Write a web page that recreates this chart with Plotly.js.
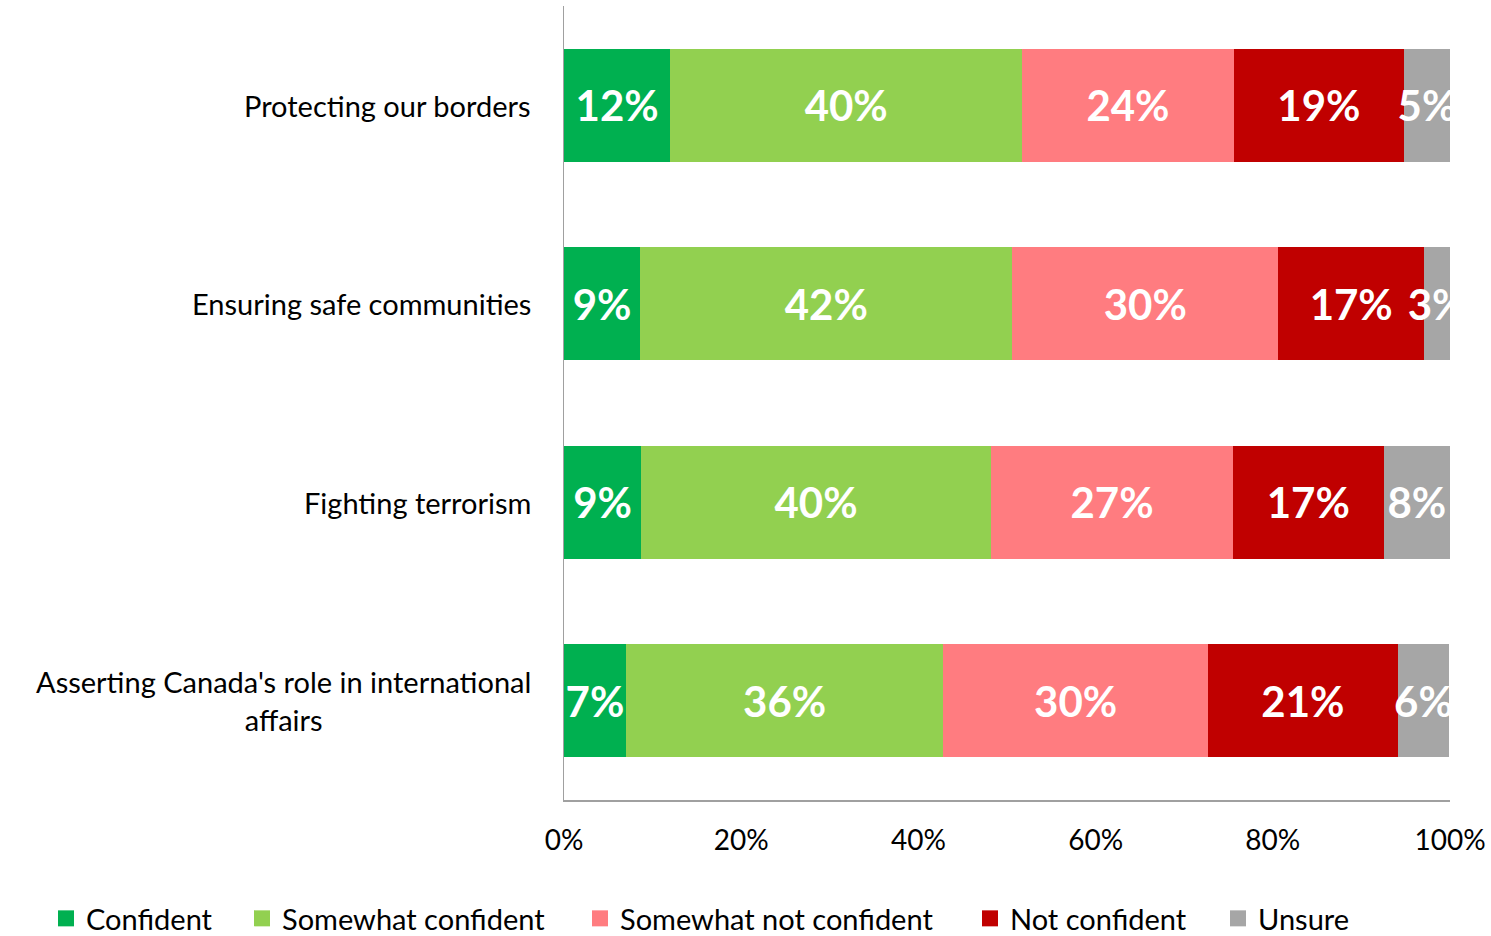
<!DOCTYPE html>
<html>
<head>
<meta charset="utf-8">
<script src="https://cdn.plot.ly/plotly-3.0.1.min.js"></script>
<style>html,body{margin:0;padding:0;background:#fff;}#chart{width:1491px;height:936px;}</style>
</head>
<body>
<div id="chart"></div>
<script>
const categories = ["Protecting our borders", "Ensuring safe communities", "Fighting terrorism", "Asserting Canada's role in international<br>affairs"];
const seriesNames = ["Confident", "Somewhat confident", "Somewhat not confident", "Not confident", "Unsure"];
const confident = [12.0, 8.6, 8.7, 7.0];
const somewhatConfident = [39.7, 42.0, 39.5, 35.8];
const somewhatNotConfident = [23.9, 30.0, 27.3, 29.9];
const notConfident = [19.2, 16.5, 17.0, 21.4];
const unsure = [5.2, 2.9, 7.5, 5.8];
const xTickVals = [0, 20, 40, 60, 80, 100];
const xTickText = ["0%", "20%", "40%", "60%", "80%", "100%"];

const colors = ["#00B050", "#92D050", "#FF7C80", "#C00000", "#A6A6A6"];
const allSeries = [confident, somewhatConfident, somewhatNotConfident, notConfident, unsure];
const FONT = "Lato, 'Open Sans', sans-serif";

// legend box left edges (px) for each entry
const legendLeftPx = [46, 242, 580, 970, 1218];
const plotL = 564, plotR = 1450;

const traces = [];
allSeries.forEach((vals, i) => {
  traces.push({
    type: 'bar', orientation: 'h',
    x: vals, y: categories,
    name: seriesNames[i],
    marker: {color: colors[i], line: {width: 0}},
    text: vals.map(v => Math.round(v) + '%'),
    textposition: 'inside',
    insidetextanchor: 'middle',
    constraintext: 'none',
    textangle: 0,
    textfont: {family: FONT, size: 42, color: '#ffffff', weight: 'bold'},
    showlegend: false,
    hoverinfo: 'skip'
  });
});
const legendKeys = ['legend', 'legend2', 'legend3', 'legend4', 'legend5'];
allSeries.forEach((vals, i) => {
  traces.push({
    type: 'scatter', mode: 'markers',
    x: [null], y: [null],
    name: seriesNames[i],
    legend: legendKeys[i],
    marker: {symbol: 'square', size: 19, color: colors[i]},
    showlegend: true, hoverinfo: 'skip'
  });
});

const layout = {
  width: 1491, height: 936,
  margin: {l: plotL, r: 1491 - plotR, t: 6, b: 136, autoexpand: false},
  barmode: 'stack',
  bargap: 0.43,
  paper_bgcolor: '#fff', plot_bgcolor: '#fff',
  font: {family: FONT, color: '#000'},
  xaxis: {
    range: [0, 100], tickvals: xTickVals, ticktext: xTickText,
    showgrid: false, zeroline: false,
    showline: true, linecolor: '#a0a0a0', linewidth: 1.5,
    ticks: '', ticklabelstandoff: 15,
    tickfont: {family: FONT, size: 28, color: '#000'},
    fixedrange: true
  },
  yaxis: {
    type: 'category', autorange: 'reversed',
    showgrid: false, zeroline: false,
    showline: true, linecolor: '#a0a0a0', linewidth: 1.5,
    ticks: '', showticklabels: false,
    fixedrange: true
  },
  annotations: categories.map(c => ({
    xref: 'paper', yref: 'y', x: 0, y: c, xanchor: 'right', yanchor: 'middle',
    xshift: -31, text: c, showarrow: false, align: 'center',
    font: {family: FONT, size: 29, color: '#000'}
  }))
};
legendKeys.forEach((k, i) => {
  layout[k] = {
    orientation: 'h', x: (legendLeftPx[i] - plotL) / (plotR - plotL), xanchor: 'left',
    y: -(944 - 800) / 794, yanchor: 'bottom',
    font: {family: FONT, size: 29, color: '#000'},
    bgcolor: 'rgba(0,0,0,0)', borderwidth: 0
  };
});

Plotly.newPlot('chart', traces, layout, {displayModeBar: false, staticPlot: true});
</script>
</body>
</html>
